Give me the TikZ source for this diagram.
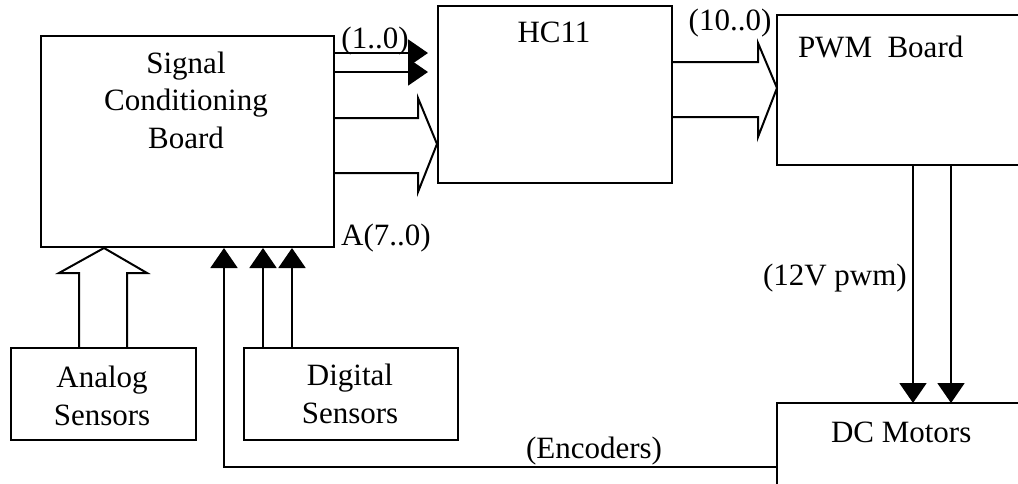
\documentclass[tikz,border=0pt]{standalone}
\usepackage{fontspec}
\setmainfont{Liberation Serif}
\usetikzlibrary{arrows.meta}
\begin{document}
\begin{tikzpicture}[x=0.5pt,y=-0.5pt,
  line width=1pt,
  box/.style={draw, line width=1pt, inner sep=0pt, anchor=north west},
  open/.style={inner sep=0pt, anchor=north west},
  lbl/.style={font=\fontsize{15.5}{18.75}\selectfont, inner sep=0pt, anchor=base, align=center},
  tip/.style={-{Triangle[length=10pt,width=13.5pt]}},
]
\useasboundingbox (0,0) rectangle (1018,483);
% boxes
\node[box, minimum width=146.5pt, minimum height=105.5pt] (scb) at (40,35) {};
\node[box, minimum width=117pt, minimum height=88.5pt] (hc) at (437,5) {};
\node[open, minimum width=120.5pt, minimum height=74pt] (pwm) at (777,15) {};
\node[open, minimum width=120.5pt, minimum height=40pt] (dc) at (777,403) {};
\node[box, minimum width=92.5pt, minimum height=46pt] (ana) at (10,347) {};
\node[box, minimum width=107pt, minimum height=46pt] (dig) at (243,347) {};
\draw (pwm.north east) -- (pwm.north west) -- (pwm.south west) -- (pwm.south east);
\draw (dc.north east) -- (dc.north west) -- (dc.south west);
% texts (base = baseline of last line)
\node[lbl] (tscb) at (186,148) {Signal\\Conditioning\\Board};
\node[lbl] (thc) at (554,42) {HC11};
\node[lbl, anchor=base west] (tpwm) at (797,57) {PWM~~Board};
\node[lbl, anchor=base west] (tdc) at (830,442) {DC Motors};
\node[lbl] (tana) at (102,425) {Analog\\Sensors};
\node[lbl] (tdig) at (350,423) {Digital\\Sensors};
\node[lbl] (l10) at (375,48) {(1..0)};
\node[lbl] (l100) at (730,30) {(10..0)};
\node[lbl] (la) at (386,245) {A(7..0)};
\node[lbl, anchor=base west] (l12) at (762,285) {(12V pwm)};
\node[lbl, anchor=base west] (lenc) at (525,458) {(Encoders)};
% SCB -> HC11 filled arrows
\draw[tip, shorten >=4.5pt] (scb.east |- 0,53) -- (hc.west |- 0,53);
\draw[tip, shorten >=4.5pt] (scb.east |- 0,72) -- (hc.west |- 0,72);
% SCB -> HC11 block arrow
\draw (scb.east |- 0,118) -- (418,118) -- (418,98) -- (hc.west |- 0,144)
      -- (418,192) -- (418,173) -- (scb.east |- 0,173);
% HC11 -> PWM block arrow
\draw (hc.east |- 0,62) -- (758,62) -- (758,43) -- (pwm.west |- 0,88)
      -- (758,137) -- (758,117) -- (hc.east |- 0,117);
% Analog -> SCB block arrow
\draw (ana.north -| 79,0) -- (79,273) -- (59,273) -- (scb.south -| 104,0)
      -- (147,273) -- (127,273) -- (ana.north -| 127,0);
% Digital -> SCB
\draw[tip] (dig.north -| 263,0) -- (scb.south -| 263,0);
\draw[tip] (dig.north -| 292,0) -- (scb.south -| 292,0);
% Encoders
\draw[tip] (dc.west |- 0,467) -- (224,467) -- (scb.south -| 224,0);
% PWM -> DC
\draw[tip] (pwm.south -| 913,0) -- (dc.north -| 913,0);
\draw[tip] (pwm.south -| 951,0) -- (dc.north -| 951,0);
\end{tikzpicture}
\end{document}
